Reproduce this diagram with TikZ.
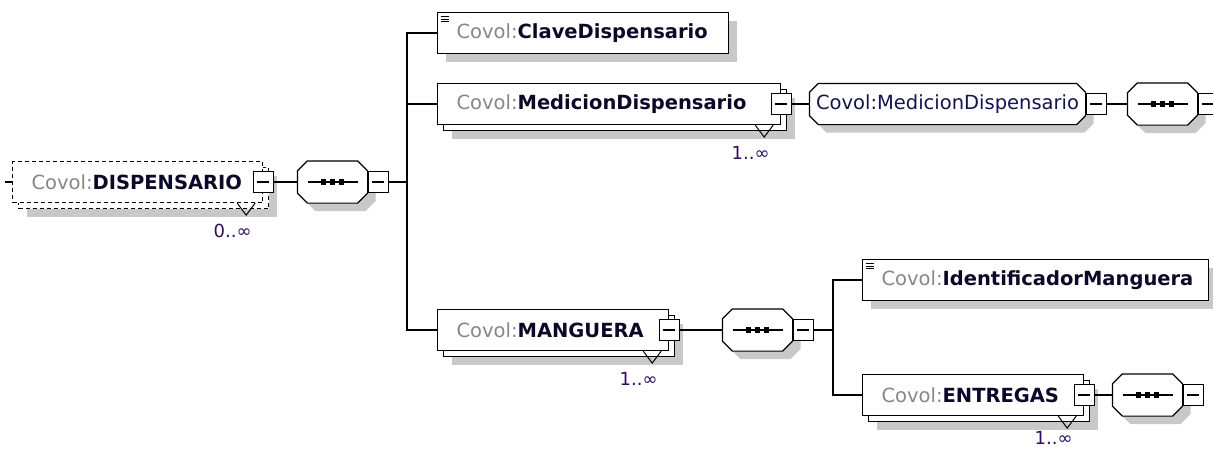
\documentclass[tikz,border=0pt]{standalone}
\usepackage{fontspec}
\setmainfont{DejaVu Sans}
\usetikzlibrary{shadows,positioning,backgrounds}

\definecolor{nsgray}{RGB}{135,135,135}
\definecolor{namedark}{RGB}{10,10,40}
\definecolor{typeblue}{RGB}{20,20,80}
\definecolor{occpurple}{RGB}{45,15,90}
\definecolor{shadowgray}{RGB}{200,200,200}

\newcommand\elemfont{\fontsize{19.5pt}{22pt}\selectfont}
\newcommand\occfont{\fontsize{18pt}{20pt}\selectfont}
\newcommand\covol[1]{\textcolor{nsgray}{Covol:}\textcolor{namedark}{\bfseries #1}}
% octagon with shadow round a named node; #2 = size of the cut corners
\newcommand\octagon[2]{%
  \path[fill=shadowgray,transform canvas={shift={(8pt,-8pt)}}]
    ([xshift=#2]#1.north west) -- ([xshift=-#2]#1.north east) -- ([yshift=-#2]#1.north east)
    -- ([yshift=#2]#1.south east) -- ([xshift=-#2]#1.south east) -- ([xshift=#2]#1.south west)
    -- ([yshift=#2]#1.south west) -- ([yshift=-#2]#1.north west) -- cycle;
  \draw[line width=1.2pt,fill=white]
    ([xshift=#2]#1.north west) -- ([xshift=-#2]#1.north east) -- ([yshift=-#2]#1.north east)
    -- ([yshift=#2]#1.south east) -- ([xshift=-#2]#1.south east) -- ([xshift=#2]#1.south west)
    -- ([yshift=#2]#1.south west) -- ([yshift=-#2]#1.north west) -- cycle;}
\newcommand\seqdots[1]{%
  \draw[line width=1.2pt] ([xshift=-25]#1.center) -- ([xshift=25]#1.center);
  \foreach \d in {-9,0,9}
    \fill ([xshift=\d]#1.center) +(-2.7,-2.7) rectangle +(2.7,2.7);}

\begin{document}
\begin{tikzpicture}[
  x=1pt,y=-1pt,
  line width=1.2pt,
  box/.style={draw,fill=white,anchor=west,minimum height=41pt,inner xsep=19pt,inner ysep=0pt,
    text width=#1,align=left,font=\elemfont},
  single/.style={box=#1,drop shadow={shadow xshift=8pt,shadow yshift=-8pt,fill=shadowgray,opacity=1}},
  many/.style={box=#1,drop shadow={shadow xshift=14pt,shadow yshift=-14pt,fill=shadowgray,opacity=1},
    copy shadow={shadow xshift=6pt,shadow yshift=-6pt,line width=1.2pt}},
  optional/.style={dash pattern=on 4pt off 3pt},
  simple/.style={path picture={\foreach \k in {4,6.5,9}
      \draw[line width=0.9pt] ([xshift=3,yshift=-\k]path picture bounding box.north west) -- ++(8,0);}},
  minus/.style={draw,fill=white,minimum width=20pt,minimum height=21pt,inner sep=0pt,
    path picture={\draw ([xshift=4]path picture bounding box.west) -- ([xshift=-4]path picture bounding box.east);}},
  seq/.style={minimum width=69pt,minimum height=41pt,inner sep=0pt},
  ctype/.style={minimum width=275pt,minimum height=40pt,inner sep=0pt,font=\elemfont,text=typeblue},
  occ/.style={font=\occfont,text=occpurple,anchor=east,inner sep=0pt},
  vmark/.style={line width=1pt}
]
\useasboundingbox (0,0) rectangle (1213,448);

% elements
\node[many=212,optional] (disp) at (12,182) {\covol{DISPENSARIO}};
\node[single=253,simple] (clave) at (437,33) {\covol{ClaveDispensario}};
\node[many=305] (medi) at (437,104) {\covol{MedicionDispensario}};
\node[many=193] (mang) at (437,330) {\covol{MANGUERA}};
\node[single=308,simple] (ident) at (862,280) {\covol{IdentificadorManguera}};
\node[many=183] (entr) at (862,395) {\covol{ENTREGAS}};

% occurrence marks
\draw[vmark] ([xshift=-26]disp.south east) -- ++(9,12) -- ++(9,-12);
\draw[vmark] ([xshift=-26]medi.south east) -- ++(9,12) -- ++(9,-12);
\draw[vmark] ([xshift=-26]mang.south east) -- ++(9,12) -- ++(9,-12);
\draw[vmark] ([xshift=-26]entr.south east) -- ++(9,12) -- ++(9,-12);
\node[occ] (dispocc) at ([xshift=-11,yshift=-28]disp.south east) {0..∞};
\node[occ] (mediocc) at ([xshift=-11,yshift=-28]medi.south east) {1..∞};
\node[occ] (mangocc) at ([xshift=-11,yshift=-28]mang.south east) {1..∞};
\node[occ] (entrocc) at ([xshift=-11,yshift=-22]entr.south east) {1..∞};

% sequences and complex type
\node[seq] (seq1) at (332.5,182) {};
\node[ctype] (cmedi) at (947.5,104) {Covol:MedicionDispensario};
\node[seq] (seq4) at (1162.5,104) {};
\node[seq] (seq2) at (757.5,330) {};
\node[seq] (seq3) at (1147.5,395) {};
\begin{scope}[on background layer]
  \path[fill=white] (0,0) rectangle (1213,448);
  \octagon{seq1}{10} \seqdots{seq1}
  \octagon{cmedi}{9}
  \octagon{seq4}{10} \seqdots{seq4}
  \octagon{seq2}{10} \seqdots{seq2}
  \octagon{seq3}{10} \seqdots{seq3}
\end{scope}

% expand boxes
\node[minus] (dispm) at (disp.east) {};
\node[minus] (medim) at (medi.east) {};
\node[minus] (mangm) at (mang.east) {};
\node[minus] (entrm) at (entr.east) {};
\node[minus,right=0pt of seq1] (seq1m) {};
\node[minus,right=0pt of cmedi] (cmedim) {};
\node[minus,right=0pt of seq4] (seq4m) {};
\node[minus,right=0pt of seq2] (seq2m) {};
\node[minus,right=0pt of seq3] (seq3m) {};

% connectors
\coordinate (dispin) at (5,182);
\coordinate (t1) at (407,182);
\coordinate (t2) at (833,330);
\draw (dispin) -- (disp.west);
\draw (dispm.east) -- (seq1.west);
\draw (seq1m.east) -- (t1);
\draw (t1) |- (clave.west);
\draw (t1) |- (medi.west);
\draw (t1) |- (mang.west);
\draw (medim.east) -- (cmedi.west);
\draw (cmedim.east) -- (seq4.west);
\draw (mangm.east) -- (seq2.west);
\draw (seq2m.east) -- (t2);
\draw (t2) |- (ident.west);
\draw (t2) |- (entr.west);
\draw (entrm.east) -- (seq3.west);
\end{tikzpicture}
\end{document}
